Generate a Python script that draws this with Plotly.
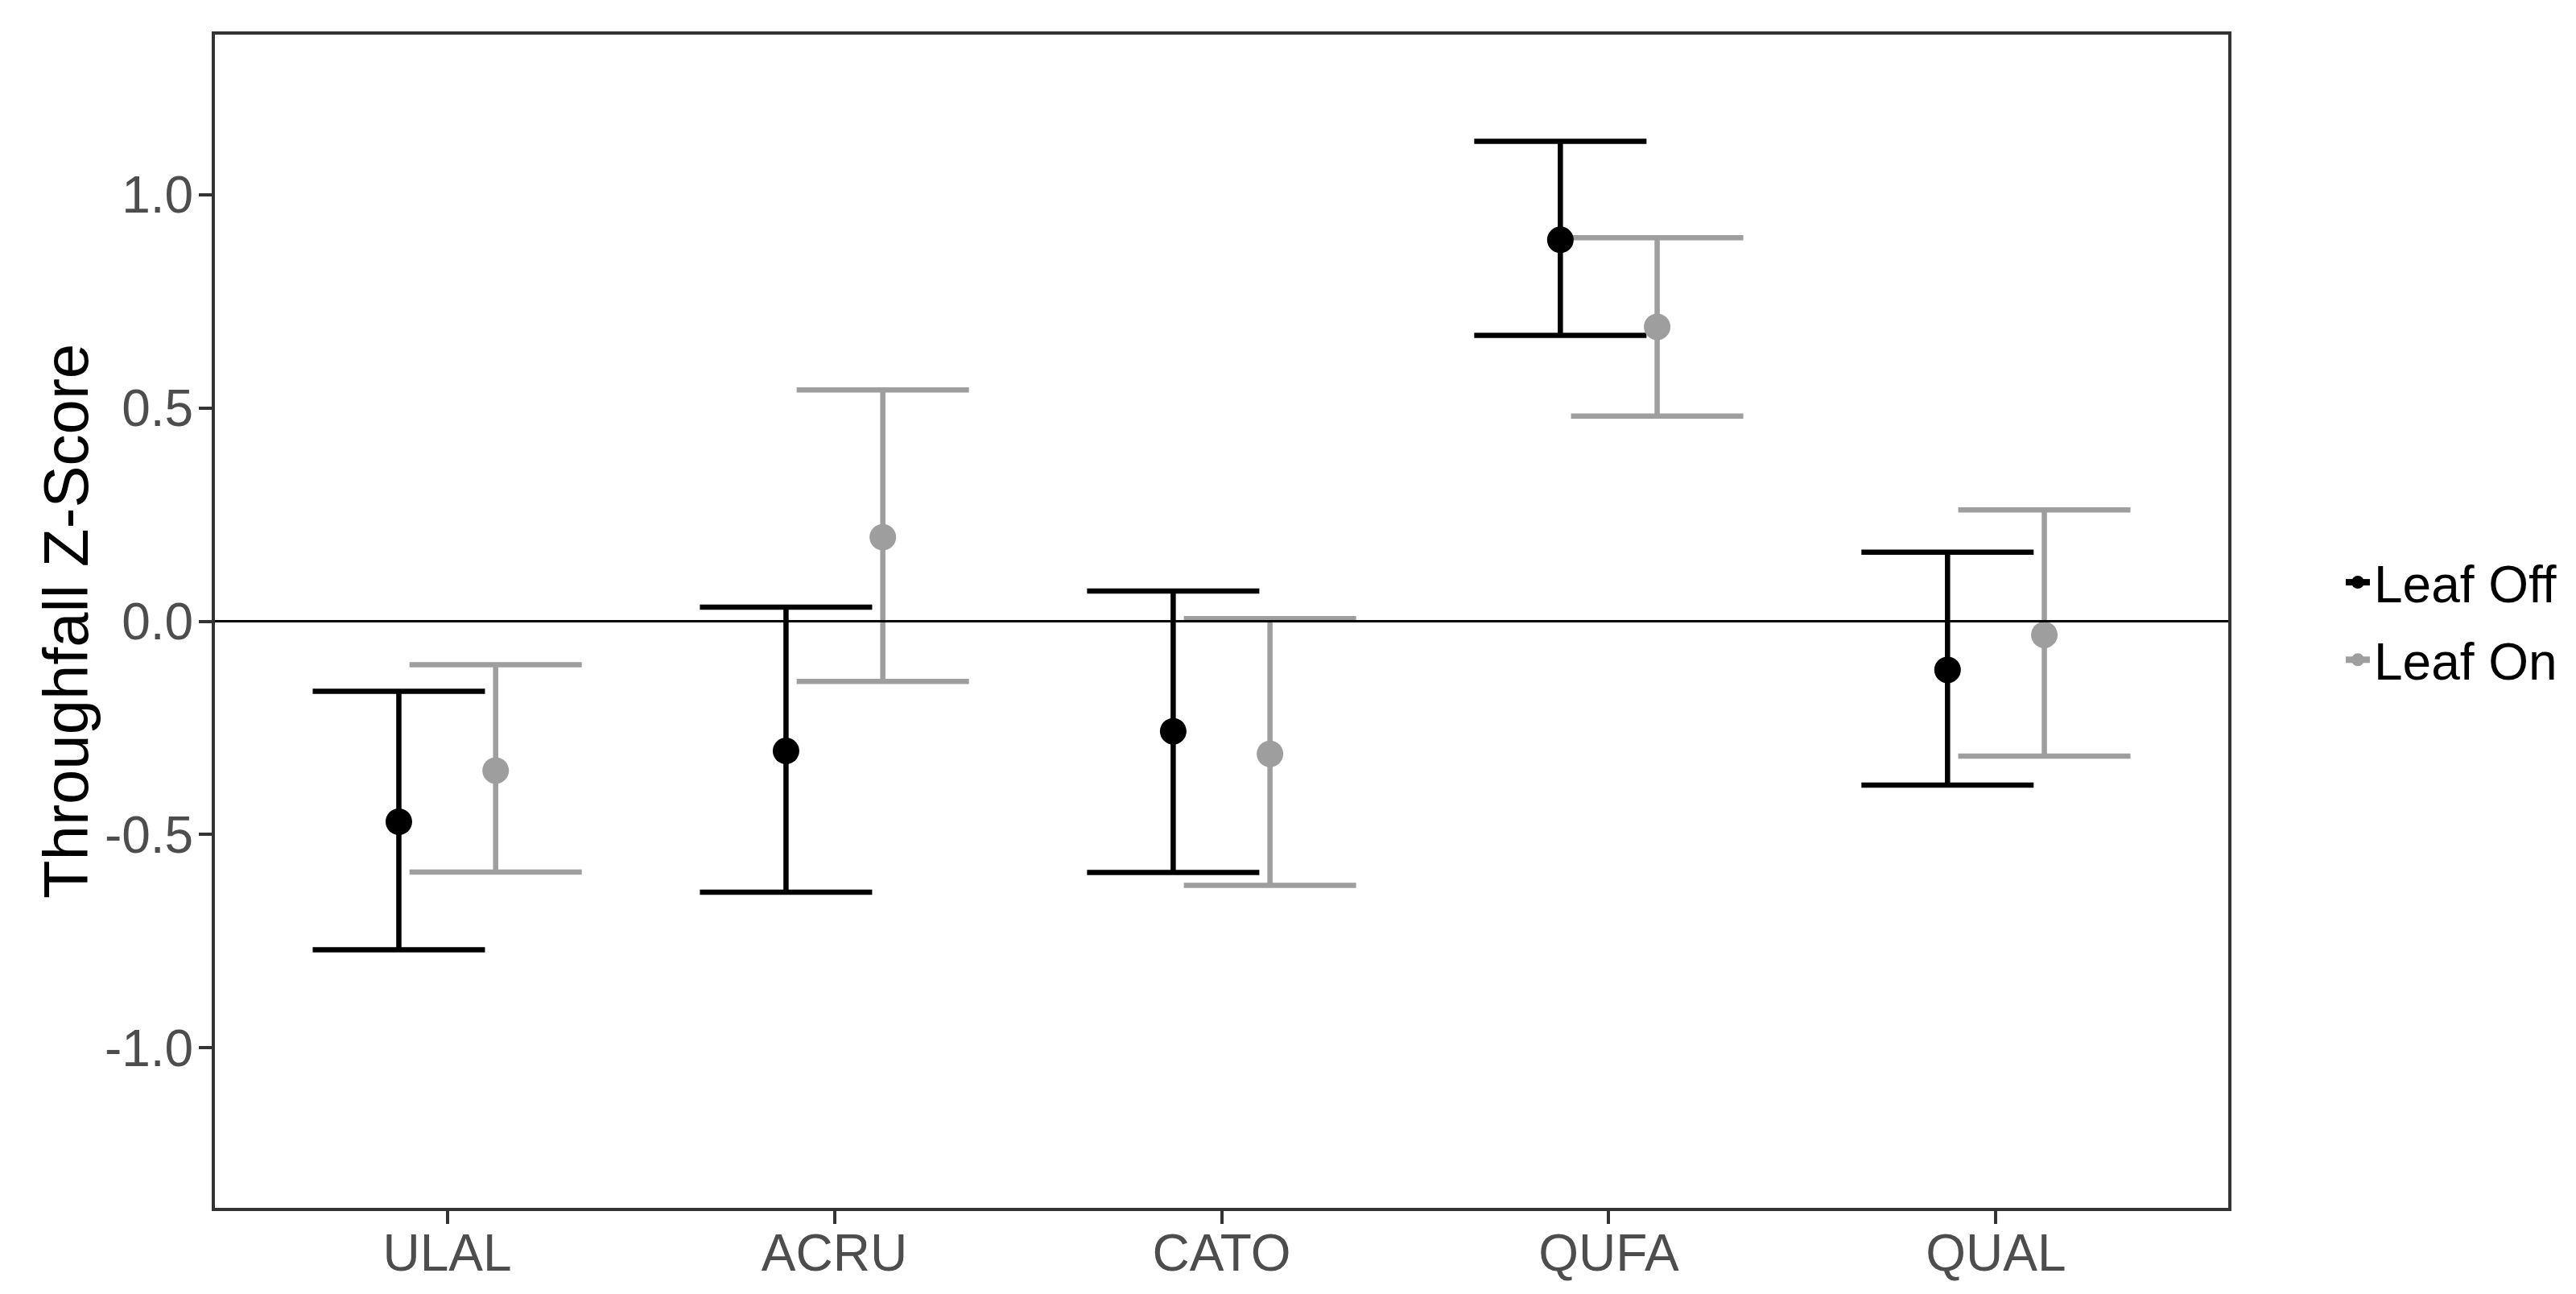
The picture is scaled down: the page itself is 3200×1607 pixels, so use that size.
import plotly.graph_objects as go

categories = ["ULAL", "ACRU", "CATO", "QUFA", "QUAL"]
groups = ["Leaf Off", "Leaf On"]

leaf_off_mean = [-0.470, -0.304, -0.258, 0.894, -0.114]
leaf_off_low = [-0.770, -0.635, -0.589, 0.670, -0.384]
leaf_off_high = [-0.164, 0.033, 0.071, 1.125, 0.162]

leaf_on_mean = [-0.350, 0.197, -0.311, 0.690, -0.032]
leaf_on_low = [-0.588, -0.141, -0.619, 0.481, -0.316]
leaf_on_high = [-0.102, 0.542, 0.006, 0.899, 0.261]

y_ticks = [-1.0, -0.5, 0.0, 0.5, 1.0]
y_tick_text = ["-1.0", "-0.5", "0.0", "0.5", "1.0"]

colors = {"Leaf Off": "#000000", "Leaf On": "#9E9E9E"}
dodge = 0.125

series = {
    "Leaf Off": (leaf_off_mean, leaf_off_low, leaf_off_high, -dodge),
    "Leaf On": (leaf_on_mean, leaf_on_low, leaf_on_high, dodge),
}

FONT = "Liberation Sans, Arial, sans-serif"
L, R, T, B = 266.5, 3200 - 2768, 42.5, 1607 - 1500
PW = 3200 - L - R

fig = go.Figure()

# error bars layer (drawn first, like ggplot)
for g in groups:
    m, lo, hi, off = series[g]
    xs = [i + off for i in range(len(categories))]
    fig.add_trace(go.Scatter(
        x=xs, y=m, mode="markers",
        marker=dict(size=1, color=colors[g], opacity=0),
        error_y=dict(type="data", symmetric=False,
                     array=[h - v for h, v in zip(hi, m)],
                     arrayminus=[v - l for v, l in zip(m, lo)],
                     color=colors[g], thickness=6.5, width=107),
        showlegend=False, hoverinfo="skip",
    ))

# points layer
for g in groups:
    m, lo, hi, off = series[g]
    xs = [i + off for i in range(len(categories))]
    fig.add_trace(go.Scatter(
        x=xs, y=m, mode="markers",
        marker=dict(size=33, color=colors[g], line=dict(width=0)),
        showlegend=False, name=g,
    ))

# legend entries
for g in groups:
    fig.add_trace(go.Scatter(
        x=[None], y=[None], mode="lines+markers", name=g, legendgroup=g,
        line=dict(color=colors[g], width=8),
        marker=dict(size=16, color=colors[g]),
    ))

fig.add_shape(type="line", xref="paper", x0=0, x1=1, yref="y", y0=0, y1=0,
              line=dict(color="#000000", width=3), layer="above")

fig.add_annotation(text="Throughfall Z-Score", xref="paper", yref="paper",
                   x=(81 - L) / PW, y=0.5, xanchor="center", yanchor="middle",
                   textangle=-90, showarrow=False,
                   font=dict(family=FONT, size=78, color="#000000"))

axis_common = dict(
    showgrid=False, zeroline=False, showline=True, mirror=True,
    linecolor="#333333", linewidth=4, ticks="outside", ticklen=16,
    tickwidth=4, tickcolor="#333333",
    tickfont=dict(family=FONT, size=64, color="#4D4D4D"),
)

fig.update_layout(
    width=3200, height=1607,
    margin=dict(l=L, r=R, t=T, b=B, pad=0),
    paper_bgcolor="white", plot_bgcolor="white",
    font=dict(family=FONT, size=64, color="#4D4D4D"),
    legend=dict(x=(2909 - L) / PW, y=0.5, xanchor="left", yanchor="middle",
                font=dict(family=FONT, size=64, color="#000000"),
                bgcolor="rgba(0,0,0,0)", itemsizing="trace",
                traceorder="grouped", tracegroupgap=10),
    xaxis=dict(range=[-0.6, 4.6], tickmode="array",
               tickvals=list(range(len(categories))), ticktext=categories,
               ticklabelstandoff=-19, **axis_common),
    yaxis=dict(range=[-1.375, 1.375], tickmode="array", tickvals=y_ticks,
               ticktext=y_tick_text, ticklabelstandoff=-6, **axis_common),
)

fig.write_html("out.html",
               config={"displayModeBar": False},
               post_script="document.body.style.margin='0px';")
